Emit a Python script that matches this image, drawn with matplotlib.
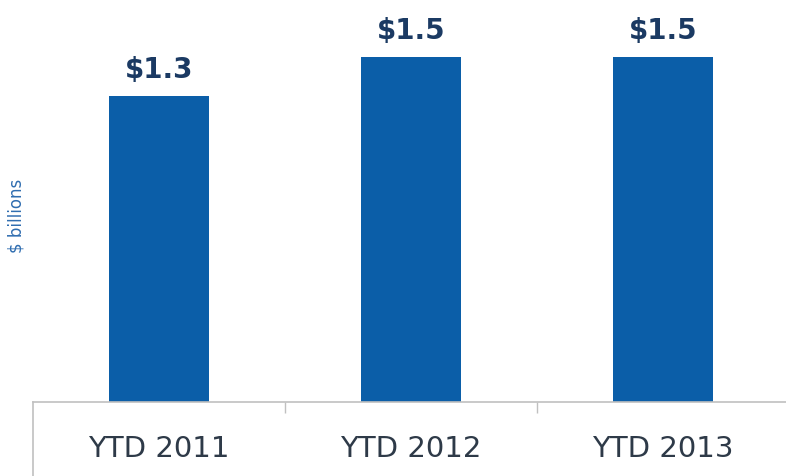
import matplotlib
matplotlib.use("Agg")
import matplotlib.pyplot as plt

categories = ["YTD 2011", "YTD 2012", "YTD 2013"]
values = [1.33, 1.50, 1.50]  # $ billions

BAR_COLOR = "#0b5ea8"
LABEL_COLOR = "#1b3a63"
AXIS_COLOR = "#c0c0c0"

fig = plt.figure(figsize=(7.86, 4.76), dpi=100)
W, H = 786, 476
left, right, base, top = 33, 789, 402, 0
ax = fig.add_axes([left / W, (H - base) / H, (right - left) / W, (base - top) / H])

x = list(range(len(categories)))
bars = ax.bar(x, values, width=0.4, color=BAR_COLOR, zorder=2)

ax.set_xlim(-0.5, len(categories) - 0.5)
ax.set_ylim(0, 1.746)

for rect, v in zip(bars, values):
    ax.annotate(f"${v:.1f}", (rect.get_x() + rect.get_width() / 2, v),
                xytext=(0, 12.5), textcoords="offset points",
                ha="center", va="baseline", fontsize=20, fontweight="bold",
                color=LABEL_COLOR, family="DejaVu Sans")

for s in ("top", "right", "left"):
    ax.spines[s].set_visible(False)
ax.spines["bottom"].set_color(AXIS_COLOR)
ax.spines["bottom"].set_linewidth(1.2)

ax.set_yticks([])
ax.set_xticks(x)
ax.set_xticklabels(categories, fontsize=21, color="#2e3a48")
ax.tick_params(axis="x", which="major", length=0, pad=24)
ax.set_xticks([0.5, 1.5], minor=True)
ax.tick_params(axis="x", which="minor", length=8, width=1, color=AXIS_COLOR, direction="out")

# left border of the category band
ax.plot([-0.5, -0.5], [0, -0.2], color=AXIS_COLOR, lw=1.2, clip_on=False,
        transform=ax.get_xaxis_transform())

fig.text(16 / W, 1 - 216 / H, "$ billions", rotation=90, ha="center", va="center",
         fontsize=12, color="#2f6db0")

fig.savefig("out.png", dpi=100)
